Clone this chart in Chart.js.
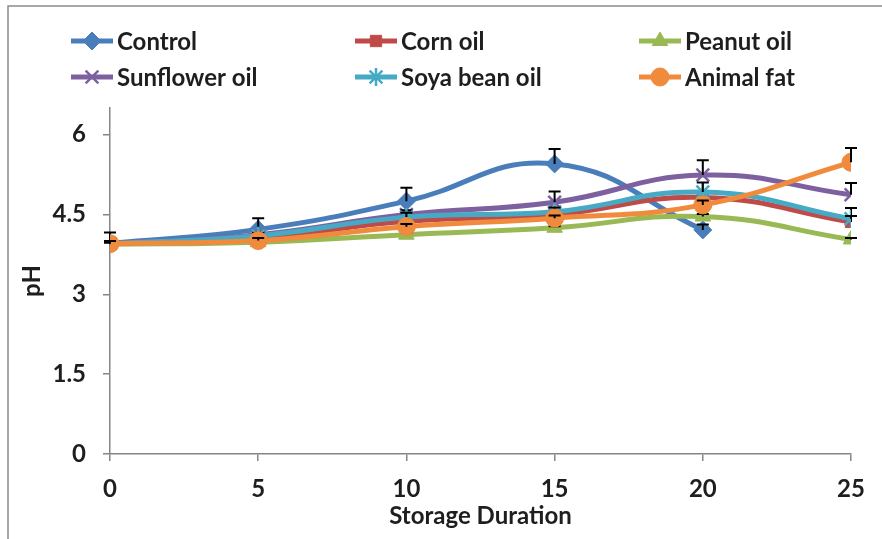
<!DOCTYPE html>
<html>
<head>
<meta charset="utf-8">
<script src="https://cdn.jsdelivr.net/npm/chart.js@4"></script>
<style>
  html, body { margin: 0; padding: 0; background: #fff; }
  #wrap { width: 882px; height: 539px; position: relative; }
</style>
</head>
<body>
<div id="wrap"><canvas id="phChart" width="882" height="539"></canvas></div>
<script>

// DATA ################################################################

var days = [0, 5, 10, 15, 20, 25];
var yTicks = [0, 1.5, 3, 4.5, 6];

var control      = [3.96, 4.22, 4.75, 5.45, 4.21, null];
var cornOil      = [3.95, 4.06, 4.37, 4.50, 4.82, 4.36];
var peanutOil    = [3.94, 3.98, 4.12, 4.25, 4.46, 4.03];
var sunflowerOil = [3.95, 4.12, 4.50, 4.73, 5.24, 4.87];
var soyaOil      = [3.95, 4.10, 4.45, 4.55, 4.92, 4.42];
var animalFat    = [3.95, 4.01, 4.27, 4.43, 4.68, 5.48];

// upper error bars (+ only)
var controlErr   = [0.20, 0.21, 0.25, 0.28, 0.10, null];
var cornErr      = [0.05, 0.05, 0.05, 0.05, 0.10, 0.26];
var peanutErr    = [0.03, 0.03, 0.03, 0.03, 0.05, 0.03];
var sunflowerErr = [0.05, 0.05, 0.08, 0.20, 0.28, 0.22];
var soyaErr      = [0.05, 0.05, 0.08, 0.08, 0.18, 0.05];
var animalErr    = [0.05, 0.05, 0.05, 0.05, 0.08, 0.27];

var FONT = "Lato, 'Open Sans', sans-serif";
var FONT_SIZE = 24;
var AXIS_COLOR = "#868686";
var TEXT_COLOR = "#1e1e1e";

function toPoints(values) {
    return days.map(function (d, i) {
        return { x: d, y: values[i] };
    });
}

function makeSet(label, values, errors, color, style, radius, bw, order) {
    return {
        label: label,
        data: toPoints(values),
        errors: errors,
        borderColor: color,
        backgroundColor: color,
        borderWidth: 5,
        tension: 0.45,
        fill: false,
        spanGaps: false,
        pointStyle: style,
        pointRadius: radius,
        pointBorderWidth: bw,
        pointBackgroundColor: color,
        pointBorderColor: color,
        order: order
    };
}

var datasets = [
    makeSet("Control",       control,      controlErr,   "#4A7EBB", "rectRot",  9, 1, 5),
    makeSet("Corn oil",      cornOil,      cornErr,      "#BE4B48", "rect",     8, 1, 4),
    makeSet("Peanut oil",    peanutOil,    peanutErr,    "#98B954", "triangle", 9, 1, 3),
    makeSet("Sunflower oil", sunflowerOil, sunflowerErr, "#7D60A0", "crossRot", 9, 2.5, 2),
    makeSet("Soya bean oil", soyaOil,      soyaErr,      "#46AAC5", "star",     9, 2.5, 1),
    makeSet("Animal fat",    animalFat,    animalErr,    "#F08A3C", "circle",   9, 1, 0)
];


// PLUGINS ################################################################

// frame round the whole picture
var framePlugin = {
    id: "frame",
    beforeDraw: function (chart) {
        var ctx = chart.ctx;
        ctx.save();
        ctx.fillStyle = "#fff";
        ctx.fillRect(0, 0, chart.width, chart.height);
        ctx.strokeStyle = "#8c8c8c";
        ctx.lineWidth = 1.5;
        ctx.strokeRect(8, 6, chart.width + 20, chart.height + 20);
        ctx.restore();
    }
};

// plus-only error bars, drawn right after each series like Excel does
var errorBarPlugin = {
    id: "errorBars",
    afterDatasetDraw: function (chart, args) {
        var ds = chart.data.datasets[args.index];
        var xs = chart.scales.x, ys = chart.scales.y;
        var ctx = chart.ctx;
        ctx.save();
        ctx.strokeStyle = "#000";
        ctx.lineWidth = 2;
        ds.data.forEach(function (p, i) {
            var e = ds.errors[i];
            if (p.y === null || e === null || e === undefined) return;
            var x = xs.getPixelForValue(p.x);
            var y0 = ys.getPixelForValue(p.y);
            var y1 = ys.getPixelForValue(p.y + e);
            ctx.beginPath();
            ctx.moveTo(x, y0);
            ctx.lineTo(x, y1);
            ctx.moveTo(x - 6, y1);
            ctx.lineTo(x + 6, y1);
            ctx.stroke();
        });
        ctx.restore();
    }
};

// two-row legend with line + marker, in three fixed columns
var legendPlugin = {
    id: "gridLegend",
    afterDraw: function (chart) {
        var ctx = chart.ctx;
        var colX = [92, 376, 660];
        var rowY = [41, 77];
        ctx.save();
        ctx.font = "bold " + FONT_SIZE + "px " + FONT;
        ctx.textBaseline = "middle";
        ctx.textAlign = "left";
        chart.data.datasets.forEach(function (ds, i) {
            var cx = colX[i % 3];
            var cy = rowY[Math.floor(i / 3)];
            ctx.strokeStyle = ds.borderColor;
            ctx.lineWidth = 5;
            ctx.beginPath();
            ctx.moveTo(cx - 21, cy);
            ctx.lineTo(cx + 21, cy);
            ctx.stroke();
            ctx.fillStyle = ds.pointBackgroundColor;
            ctx.strokeStyle = ds.pointBorderColor;
            ctx.lineWidth = ds.pointBorderWidth;
            Chart.helpers.drawPoint(ctx, {
                pointStyle: ds.pointStyle,
                radius: ds.pointRadius,
                borderWidth: ds.pointBorderWidth,
                rotation: 0
            }, cx, cy);
            ctx.fillStyle = TEXT_COLOR;
            ctx.fillText(ds.label, cx + 25, cy + 1);
        });
        ctx.restore();
    }
};


// LINE CHART ################################################################

var ctx_line = document.getElementById("phChart");

var myLineChart = new Chart(ctx_line, {
    type: "line",
    data: { datasets: datasets },
    plugins: [framePlugin, errorBarPlugin, legendPlugin],
    options: {
        responsive: false,
        animation: false,
        layout: { padding: { top: 108, right: 31, bottom: 0, left: 0 } },
        plugins: {
            legend: { display: false },
            tooltip: { enabled: false }
        },
        scales: {
            x: {
                type: "linear",
                min: 0,
                max: 25,
                afterFit: function (scale) { scale.height = 85; },
                ticks: {
                    stepSize: 5,
                    padding: 14,
                    color: TEXT_COLOR,
                    font: { family: FONT, size: FONT_SIZE, weight: "bold" }
                },
                grid: {
                    drawOnChartArea: false,
                    drawTicks: true,
                    tickLength: 7,
                    color: AXIS_COLOR,
                    lineWidth: 1.5
                },
                border: { color: AXIS_COLOR, width: 1.5 },
                title: {
                    display: true,
                    text: "Storage Duration",
                    color: TEXT_COLOR,
                    font: { family: FONT, size: FONT_SIZE, weight: "bold" },
                    padding: { top: 0, bottom: 8 }
                }
            },
            y: {
                min: 0,
                max: 6.5,
                afterFit: function (scale) { scale.width = 110; },
                afterBuildTicks: function (scale) {
                    scale.ticks = yTicks.map(function (v) { return { value: v }; });
                },
                ticks: {
                    padding: 17,
                    color: TEXT_COLOR,
                    font: { family: FONT, size: FONT_SIZE, weight: "bold" }
                },
                grid: {
                    drawOnChartArea: false,
                    drawTicks: true,
                    tickLength: 7,
                    color: AXIS_COLOR,
                    lineWidth: 1.5
                },
                border: { color: AXIS_COLOR, width: 1.5 },
                title: {
                    display: true,
                    text: "pH",
                    color: TEXT_COLOR,
                    font: { family: FONT, size: FONT_SIZE, weight: "bold" },
                    padding: { top: 18, bottom: 0 }
                }
            }
        }
    }
});
</script>
</body>
</html>
